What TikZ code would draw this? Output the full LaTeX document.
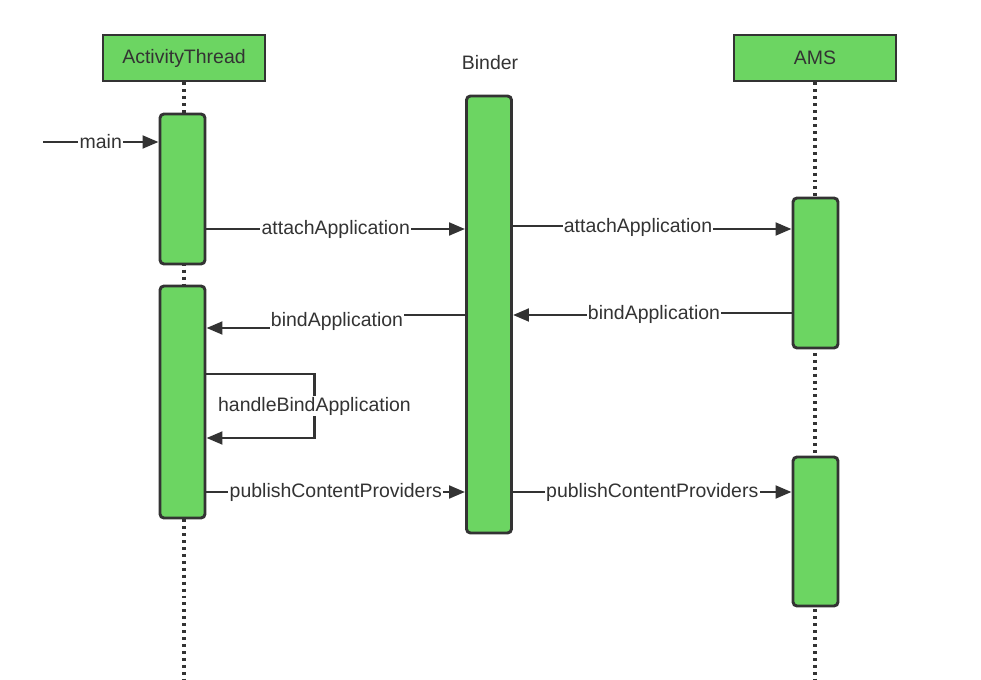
\documentclass[tikz,border=0pt]{standalone}
\usepackage{fontspec}
\setmainfont{Liberation Sans}
\usetikzlibrary{arrows.meta}
\definecolor{barfill}{RGB}{108,213,98}
\definecolor{ink}{RGB}{51,51,51}

\begin{document}
\begin{tikzpicture}[x=0.75pt, y=-0.75pt, font=\fontsize{14.6}{17}\selectfont, text=ink,
    actor/.style={draw=ink, fill=barfill, line width=2.2pt, minimum width=121.5pt, minimum height=34.5pt, inner sep=0pt},
    bar/.style={draw=ink, fill=barfill, line width=2.2pt, rounded corners=3pt, minimum width=33.75pt, inner sep=0pt},
    lifeline/.style={draw=ink, line width=2.4pt, dash pattern=on 2.2pt off 3pt},
    msg/.style={draw=ink, line width=2.2pt, -{Triangle[length=12pt, width=9.5pt]}},
    lbl/.style={fill=white, inner sep=1pt}]
    \useasboundingbox (0,0) rectangle (981,680);

    % Define the participants
    \node[actor] (thread) at (184,58) {ActivityThread};
    \node (binderlabel) at (490,63) {Binder};
    \node[actor] (ams) at (815,58) {AMS};

    % Draw the lifelines
    \coordinate (threadend) at (184,680);
    \coordinate (amsend) at (815,680);
    \draw[lifeline] (thread.south) -- (threadend);
    \draw[lifeline] (ams.south) -- (amsend);

    % Draw the activation bars
    \node[bar, minimum height=112.5pt] (at1) at (182.5,189) {};
    \node[bar, minimum height=174pt] (at2) at (182.5,402) {};
    \node[bar, minimum height=327.75pt] (binder) at (489,314.5) {};
    \node[bar, minimum height=112.5pt] (ams1) at (815.5,273) {};
    \node[bar, minimum height=111.75pt] (ams2) at (815.5,531.5) {};

    % Draw the messages
    \coordinate (start) at (43,142);
    \draw[msg] (start) -- (at1.west |- start) node[midway, lbl] {main};
    \draw[msg] (at1.east |- 0,229) -- (binder.west |- 0,229) node[midway, lbl] {attachApplication};
    \draw[msg] (binder.east |- 0,226) -- (638,226) -- (638,229) node[midway, lbl] {attachApplication} -- (ams1.west |- 0,229);
    \draw[msg] (ams1.west |- 0,313) -- (654,313) -- (654,315) node[midway, lbl] {bindApplication} -- (binder.east |- 0,315);
    \draw[msg] (binder.west |- 0,315) -- (337,315) -- (337,328) node[midway, lbl] {bindApplication} -- (at2.east |- 0,328);
    \draw[msg] (at2.east |- 0,374) -- ++(108,0) -- ++(0,64) node[midway, lbl] {handleBindApplication} -- (at2.east |- 0,438);
    \draw[msg] (at2.east |- 0,492) -- (binder.west |- 0,492) node[midway, lbl] {publishContentProviders};
    \draw[msg] (binder.east |- 0,492) -- (ams2.west |- 0,492) node[midway, lbl] {publishContentProviders};
\end{tikzpicture}
\end{document}
